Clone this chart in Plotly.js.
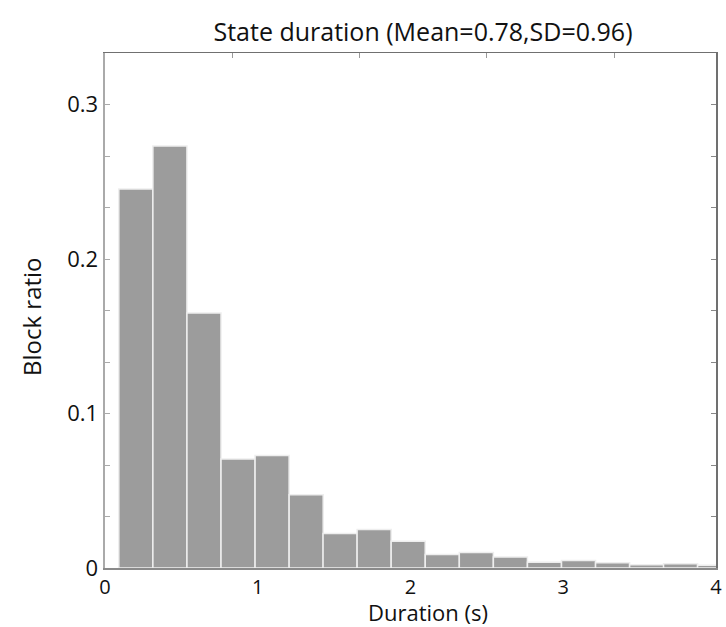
<!DOCTYPE html>
<html>
<head>
<meta charset="utf-8">
<script src="https://cdn.plot.ly/plotly-3.0.1.min.js"></script>
<style>
  html, body { margin: 0; padding: 0; background: #ffffff; }
  #chart { width: 726px; height: 627px; }
</style>
</head>
<body>
<div id="chart"></div>
<script>
// Histogram of state durations: bin centres (s) and share of blocks per bin
const binCenters = [0.202, 0.425, 0.648, 0.871, 1.094, 1.317, 1.539, 1.762, 1.985,
                    2.208, 2.431, 2.654, 2.877, 3.100, 3.323, 3.546, 3.768, 3.991];
const blockRatio = [0.2453, 0.2732, 0.1650, 0.0706, 0.0728, 0.0474, 0.0223, 0.0250, 0.0173,
                    0.0087, 0.0100, 0.0072, 0.0037, 0.0048, 0.0034, 0.0021, 0.0027, 0.0018];
const binWidth = 0.2229;

// Axis ticks
const xTickVals = [0, 1, 2, 3, 4];
const xTickText = ['0', '1', '2', '3', '4'];
const xTopTicks = [0.8333, 1.6667, 2.5, 3.3333];
const yTickVals = [0, 1/30, 2/30, 3/30, 4/30, 5/30, 6/30, 7/30, 8/30, 9/30, 10/30];
const yTickText = ['0', '', '', '0.1', '', '', '0.2', '', '', '0.3', ''];

const FONT = 'Open Sans, Noto Sans, sans-serif';
const INK = '#111111';

const traces = [
  {
    type: 'bar',
    x: binCenters,
    y: blockRatio,
    width: binWidth,
    marker: { color: '#9c9c9c', line: { color: '#eeeeee', width: 1.5 } },
    hoverinfo: 'x+y',
    showlegend: false,
    cliponaxis: true
  },
  {
    // carrier trace for the top / right frame axes
    type: 'scatter', mode: 'markers',
    x: [], y: [], xaxis: 'x2', yaxis: 'y2',
    showlegend: false, hoverinfo: 'skip'
  }
];

const layout = {
  width: 726,
  height: 627,
  margin: { l: 105, r: 10, t: 53, b: 59 },
  paper_bgcolor: '#ffffff',
  plot_bgcolor: '#ffffff',
  font: { family: FONT, color: INK, size: 18 },
  bargap: 0,
  title: {
    text: 'State duration (Mean=0.78,SD=0.96)',
    font: { family: FONT, size: 25, color: INK },
    x: 423 / 726, xanchor: 'center',
    y: 1 - 32 / 627, yanchor: 'middle'
  },
  xaxis: {
    range: [0, 4],
    tickvals: xTickVals,
    ticktext: xTickText,
    ticks: '',
    showgrid: false,
    zeroline: false,
    showline: true,
    linecolor: '#8a8a8a',
    linewidth: 1.5,
    tickfont: { family: FONT, size: 20, color: INK }
  },
  yaxis: {
    range: [0, 1/3],
    tickvals: yTickVals,
    ticktext: yTickText,
    ticks: 'inside',
    ticklen: 5,
    tickcolor: '#aaaaaa',
    tickwidth: 1,
    showgrid: false,
    zeroline: false,
    showline: true,
    linecolor: '#aaaaaa',
    linewidth: 2.5,
    tickfont: { family: FONT, size: 22, color: INK }
  },
  xaxis2: {
    overlaying: 'x',
    side: 'top',
    range: [0, 4],
    tickvals: xTopTicks,
    ticks: 'inside',
    ticklen: 5,
    tickcolor: '#999999',
    showticklabels: false,
    showgrid: false,
    zeroline: false,
    showline: true,
    linecolor: '#707070',
    linewidth: 1.5
  },
  yaxis2: {
    overlaying: 'y',
    side: 'right',
    range: [0, 1/3],
    tickvals: yTickVals,
    ticks: 'inside',
    ticklen: 5,
    tickcolor: '#888888',
    showticklabels: false,
    showgrid: false,
    zeroline: false,
    showline: true,
    linecolor: '#707070',
    linewidth: 1.5
  },
  annotations: [
    {
      text: 'Duration (s)',
      xref: 'paper', yref: 'paper',
      x: (428 - 105) / 611, y: -(612 - 568) / 515,
      xanchor: 'center', yanchor: 'middle',
      showarrow: false, borderpad: 0,
      font: { family: FONT, size: 22, color: INK }
    },
    {
      text: 'Block ratio',
      xref: 'paper', yref: 'paper',
      x: -(105 - 31) / 611, y: (568 - 317) / 515,
      xanchor: 'center', yanchor: 'middle',
      textangle: -90,
      showarrow: false,
      font: { family: FONT, size: 24, color: INK }
    }
  ]
};

Plotly.newPlot('chart', traces, layout, { displayModeBar: false, staticPlot: true });
</script>
</body>
</html>
